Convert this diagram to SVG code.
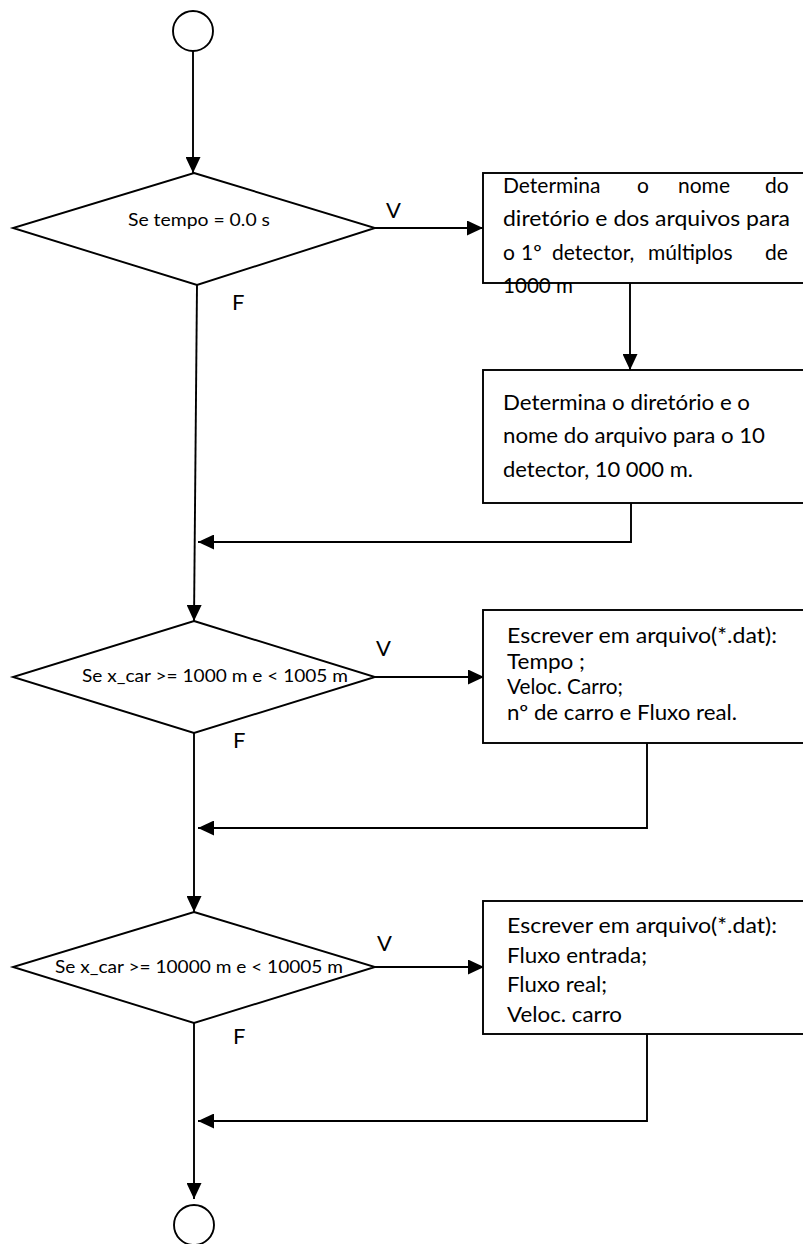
<svg xmlns="http://www.w3.org/2000/svg" width="803" height="1244" viewBox="0 0 803 1244">
<style>
.s{fill:none;stroke:#000;stroke-width:1.9}
.n{fill:#fff;stroke:#000;stroke-width:1.9}
text{font-family:Lato,"Open Sans","Liberation Sans",sans-serif;fill:#000}
.b{font-size:21px}
.d{font-size:17px}
.l{font-size:22px}
</style>
<defs>
<marker id="ah" viewBox="0 0 16 15" refX="16" refY="7.5" markerWidth="16" markerHeight="15" markerUnits="userSpaceOnUse" orient="auto">
<path d="M0,0 L16,7.5 L0,15 z" fill="#000"/>
</marker>
</defs>
<g id="connectors">
<line class="s" x1="193" y1="51" x2="193" y2="173" marker-end="url(#ah)"/>
<line class="s" x1="375" y1="228" x2="483" y2="228" marker-end="url(#ah)"/>
<line class="s" x1="630" y1="283" x2="630" y2="370" marker-end="url(#ah)"/>
<polyline class="s" points="631,503 631,542 198,542" marker-end="url(#ah)"/>
<line class="s" x1="197" y1="285" x2="194" y2="621" marker-end="url(#ah)"/>
<line class="s" x1="375" y1="677" x2="484" y2="677" marker-end="url(#ah)"/>
<polyline class="s" points="647,743 647,828 198,828" marker-end="url(#ah)"/>
<line class="s" x1="194" y1="733" x2="194" y2="912" marker-end="url(#ah)"/>
<line class="s" x1="375" y1="967" x2="484" y2="967" marker-end="url(#ah)"/>
<polyline class="s" points="647,1034 647,1121 198,1121" marker-end="url(#ah)"/>
<line class="s" x1="194" y1="1023" x2="194" y2="1199" marker-end="url(#ah)"/>
<text class="l" x="386" y="218">V</text>
<text class="l" x="232" y="310">F</text>
<text class="l" x="376" y="656">V</text>
<text class="l" x="233" y="748">F</text>
<text class="l" x="377" y="951">V</text>
<text class="l" x="233" y="1044">F</text>
</g>
<g id="start">
<circle class="n" cx="193" cy="31" r="20"/>
</g>
<g id="decision1">
<polygon class="n" points="194,173 375,228 197,285 13,228"/>
<text class="d" x="128" y="226" textLength="142" lengthAdjust="spacingAndGlyphs">Se tempo = 0.0 s</text>
</g>
<g id="box1">
<rect class="n" x="483" y="173" width="330" height="110"/>
<text class="b" y="193"><tspan x="503">Determina</tspan><tspan x="637">o</tspan><tspan x="678">nome</tspan><tspan x="765">do</tspan></text>
<text class="b" x="503" y="226" textLength="287" lengthAdjust="spacingAndGlyphs">diretório e dos arquivos para</text>
<text class="b" y="260"><tspan x="503">o</tspan><tspan x="521">1º</tspan><tspan x="552">detector,</tspan><tspan x="648">múltiplos</tspan><tspan x="765">de</tspan></text>
<text class="b" x="503" y="293" textLength="70" lengthAdjust="spacingAndGlyphs">1000 m</text>
</g>
<g id="box2">
<rect class="n" x="483" y="370" width="330" height="133"/>
<text class="b" x="503" y="410" textLength="247" lengthAdjust="spacingAndGlyphs">Determina o diretório e o</text>
<text class="b" x="503" y="443" textLength="262" lengthAdjust="spacingAndGlyphs">nome do arquivo para o 10</text>
<text class="b" x="503" y="477" textLength="190" lengthAdjust="spacingAndGlyphs">detector, 10 000 m.</text>
</g>
<g id="decision2">
<polygon class="n" points="194,621 375,677 194,733 13,677"/>
<text class="d" x="82" y="682" textLength="266" lengthAdjust="spacingAndGlyphs">Se x_car &gt;= 1000 m e &lt; 1005 m</text>
</g>
<g id="box3">
<rect class="n" x="483" y="610" width="330" height="133"/>
<text class="b" x="507" y="643" textLength="270" lengthAdjust="spacingAndGlyphs">Escrever em arquivo(*.dat):</text>
<text class="b" x="507" y="669" textLength="78" lengthAdjust="spacingAndGlyphs">Tempo ;</text>
<text class="b" x="507" y="694" textLength="116" lengthAdjust="spacingAndGlyphs">Veloc. Carro;</text>
<text class="b" x="507" y="720" textLength="230" lengthAdjust="spacingAndGlyphs">nº de carro e Fluxo real.</text>
</g>
<g id="decision3">
<polygon class="n" points="194,912 375,967 194,1023 13,967"/>
<text class="d" x="55" y="973" textLength="288" lengthAdjust="spacingAndGlyphs">Se x_car &gt;= 10000 m e &lt; 10005 m</text>
</g>
<g id="box4">
<rect class="n" x="483" y="901" width="330" height="133"/>
<text class="b" x="507" y="933" textLength="270" lengthAdjust="spacingAndGlyphs">Escrever em arquivo(*.dat):</text>
<text class="b" x="507" y="963" textLength="140" lengthAdjust="spacingAndGlyphs">Fluxo entrada;</text>
<text class="b" x="507" y="992" textLength="100" lengthAdjust="spacingAndGlyphs">Fluxo real;</text>
<text class="b" x="507" y="1022" textLength="115" lengthAdjust="spacingAndGlyphs">Veloc. carro</text>
</g>
<g id="end">
<circle class="n" cx="194" cy="1225" r="20"/>
</g>
</svg>
